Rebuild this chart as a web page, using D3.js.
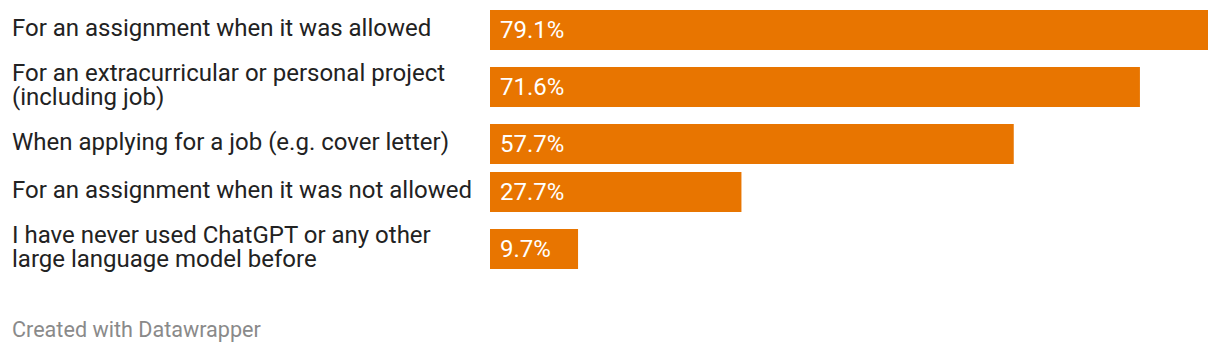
<!DOCTYPE html>
<html>
<head>
<meta charset="utf-8">
<script src="https://cdn.jsdelivr.net/npm/d3@7"></script>
<style>
  body { margin: 0; background: #fff; }
  svg text { font-family: Roboto, sans-serif; }
</style>
</head>
<body>
<div class="chart"></div>
<script>
'use strict'

// answers (each label split in display lines) and their shares in %
const labels = [
    ['For an assignment when it was allowed'],
    ['For an extracurricular or personal project', '(including job)'],
    ['When applying for a job (e.g. cover letter)'],
    ['For an assignment when it was not allowed'],
    ['I have never used ChatGPT or any other', 'large language model before']
];
const values = [79.1, 71.6, 57.7, 27.7, 9.7];

let width = 1220;
let height = 354;
let barLeft = 490;
let barRight = 1208;
let barHeight = 40;
let gap = 8;
let lineHeight = 24;

const svg = d3.select('.chart')
              .append('svg')
              .attr('width', width)
              .attr('height', height);

const xScale = d3.scaleLinear()
                 .domain([0, d3.max(values)])
                 .range([barLeft, barRight]);

/* row heights depend on how many lines the label needs */
let y = 10;
const rows = labels.map((lab, i) => {
    const rowH = lab.length > 1 ? 58 : barHeight;
    const r = { lab: lab, value: values[i], top: y, h: rowH };
    y += rowH + gap;
    return r;
});

const row = svg.selectAll('g.row')
    .data(rows)
    .enter()
    .append('g')
    .attr('class', 'row')
    .attr('transform', d => 'translate(0,' + d.top + ')');

row.append('rect')
    .attr('x', xScale(0))
    .attr('y', d => (d.h - barHeight) / 2)
    .attr('width', d => xScale(d.value) - xScale(0))
    .attr('height', barHeight)
    .style('fill', '#e87500');

row.append('text')
    .attr('x', xScale(0) + 10)
    .attr('y', d => d.h / 2 + 7.5)
    .style('font-size', '24px')
    .style('fill', '#fff')
    .text(d => d.value.toFixed(1) + '%');

row.each(function (d) {
    const n = d.lab.length;
    const first = d.h / 2 + 6 - (n - 1) * lineHeight / 2;
    d3.select(this).append('text')
        .attr('x', 12)
        .style('font-size', '24px')
        .style('fill', '#222')
        .selectAll('tspan')
        .data(d.lab)
        .enter()
        .append('tspan')
        .attr('x', 12)
        .attr('y', (t, k) => first + k * lineHeight)
        .text(t => t);
});

svg.append('text')
    .attr('x', 12)
    .attr('y', 337)
    .style('font-size', '21.6px')
    .style('fill', '#8a8a8a')
    .text('Created with Datawrapper');
</script>
</body>
</html>
